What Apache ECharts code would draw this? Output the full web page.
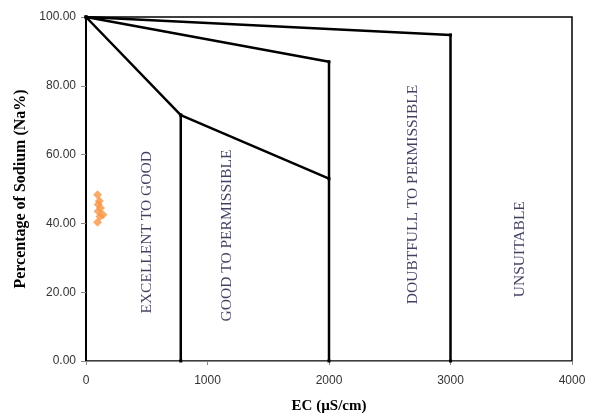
<!DOCTYPE html>
<html>
<head>
<meta charset="utf-8">
<script src="https://cdn.jsdelivr.net/npm/echarts@6/dist/echarts.min.js"></script>
<style>
  html, body { margin: 0; padding: 0; background: #fff; }
  #main { width: 589px; height: 419px; }
</style>
</head>
<body>
<div id="main"></div>
<script>
// boundary lines of the Wilcox-type diagram (EC, Na%)
var line1 = [[0, 100], [3000, 94.8], [3000, 0]];
var line2 = [[0, 100], [2000, 87], [2000, 0]];
var line3 = [[0, 100], [780, 71.5], [2000, 53]];
var line3Drop = [[780, 71.5], [780, 0]];

// samples
var sampleEC = [95, 110, 100, 120, 100, 140, 115, 95];
var sampleNa = [48.3, 46.5, 45.5, 44.5, 43.5, 42.5, 42, 40.3];

// class labels
var zoneNames = ['EXCELLENT TO GOOD', 'GOOD TO PERMISSIBLE', 'DOUBTFULL TO PERMISSIBLE', 'UNSUITABLE'];
var zoneX = [502, 1160, 2691, 3572];
var zoneY = [37.4, 36.5, 48.4, 32.5];

var xTicks = [0, 1000, 2000, 3000, 4000];

var chart = echarts.init(document.getElementById('main'));

function boundary(data) {
    return {
        type: 'line',
        data: data,
        symbol: 'rect',
        symbolSize: 3,
        showSymbol: true,
        lineStyle: { color: '#000', width: 2.5 },
        itemStyle: { color: '#000' },
        silent: true,
        z: 3
    };
}

chart.setOption({
    animation: false,
    grid: {
        left: 86, right: 17, top: 17, bottom: 57,
        show: true, borderColor: '#000', borderWidth: 1.5
    },
    xAxis: {
        type: 'value',
        min: 0, max: 4000, interval: 1000,
        name: 'EC (µS/cm)',
        nameLocation: 'middle',
        nameGap: 38,
        nameTextStyle: { fontFamily: 'Liberation Serif', fontWeight: 'bold', fontSize: 15, color: '#000' },
        axisLine: { show: true, lineStyle: { color: '#888', width: 1 } },
        axisTick: { show: true, length: 4, lineStyle: { color: '#888' } },
        axisLabel: {
            margin: 14, fontFamily: 'Liberation Sans', fontSize: 12, color: '#333',
            formatter: function (v) { return xTicks.indexOf(v) >= 0 ? String(v) : ''; }
        },
        splitLine: { show: false }
    },
    yAxis: {
        type: 'value',
        min: 0, max: 100, interval: 20,
        name: 'Percentage of Sodium (Na%)',
        nameLocation: 'middle',
        nameGap: 56,
        nameTextStyle: { fontFamily: 'Liberation Serif', fontWeight: 'bold', fontSize: 16, color: '#000' },
        axisLine: { show: true, lineStyle: { color: '#000', width: 2 } },
        axisTick: { show: true, inside: false, length: 5, lineStyle: { color: '#888' } },
        axisLabel: {
            margin: 10, fontFamily: 'Liberation Sans', fontSize: 12, color: '#333',
            formatter: function (v) { return v.toFixed(2); }
        },
        splitLine: { show: false }
    },
    series: [
        boundary(line1),
        boundary(line2),
        boundary(line3),
        boundary(line3Drop),
        {
            type: 'scatter',
            data: sampleEC.map(function (x, i) { return [x, sampleNa[i]]; }),
            symbol: 'diamond',
            symbolSize: 9,
            itemStyle: { color: '#F79646' },
            z: 4
        },
        {
            type: 'scatter',
            data: zoneNames.map(function (n, i) { return { value: [zoneX[i], zoneY[i]], name: n }; }),
            symbolSize: 0,
            silent: true,
            label: {
                show: true,
                position: 'inside',
                rotate: 90,
                formatter: '{b}',
                fontFamily: 'Liberation Serif',
                fontSize: 15.5,
                color: '#10103a'
            }
        }
    ]
});
</script>
</body>
</html>
